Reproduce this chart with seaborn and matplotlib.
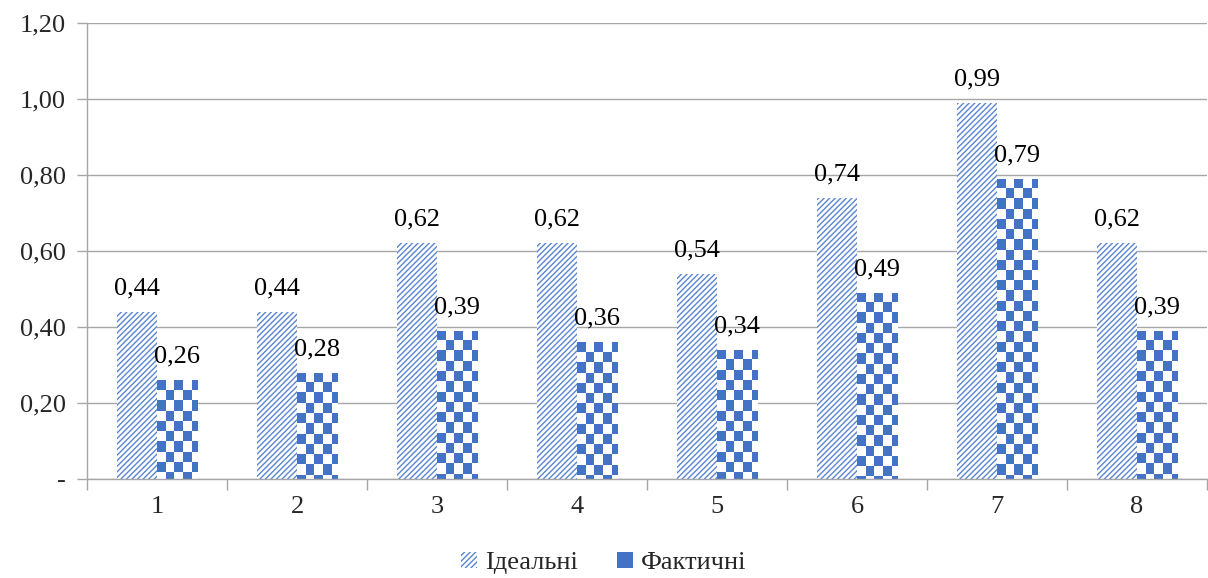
import matplotlib
matplotlib.use("Agg")
import matplotlib.pyplot as plt
from matplotlib.colors import ListedColormap
from matplotlib.patches import Patch
import seaborn as sns
import pandas as pd
import numpy as np

categories = ["1", "2", "3", "4", "5", "6", "7", "8"]
ideal = [0.44, 0.44, 0.62, 0.62, 0.54, 0.74, 0.99, 0.62]
actual = [0.26, 0.28, 0.39, 0.36, 0.34, 0.49, 0.79, 0.39]
series = ["Ідеальні", "Фактичні"]
yticks = [0, 0.2, 0.4, 0.6, 0.8, 1.0, 1.2]

blue = "#4472C4"
hatch_blue = "#5B85D0"

df = pd.DataFrame({
    "cat": categories * 2,
    "val": ideal + actual,
    "series": [series[0]] * len(categories) + [series[1]] * len(categories),
})

sns.set_theme(style="white")
plt.rcParams["font.family"] = "serif"
plt.rcParams["font.serif"] = ["Liberation Serif", "DejaVu Serif"]
plt.rcParams["hatch.linewidth"] = 1.0
plt.rcParams["hatch.color"] = hatch_blue

fig = plt.figure(figsize=(12.08, 5.78), dpi=100)
ax = fig.add_axes([87 / 1208, 1 - 479 / 578, 1120 / 1208, 456 / 578])

sns.barplot(data=df, x="cat", y="val", hue="series", order=categories,
            hue_order=series, palette=["white", blue], width=0.572, gap=0,
            linewidth=0, legend=False, ax=ax, errorbar=None)

n = len(categories)
ideal_bars = ax.patches[:n]
actual_bars = ax.patches[n:2 * n]

for b in ideal_bars:
    b.set_facecolor("white")
    b.set_edgecolor(hatch_blue)
    b.set_hatch("//////")
    b.set_linewidth(0)

# checkerboard texture for the actual bars (cells about 8.5 px)
cell_x = 8.5 / 140
cell_y = 8.5 / 380 * 1.2
cmap = ListedColormap(["white", blue])
for b in actual_bars:
    x0, w, h = b.get_x(), b.get_width(), b.get_height()
    nrows = int(np.ceil(h / cell_y))
    ncols = int(np.ceil(w / cell_x))
    grid = 1 - np.indices((nrows, ncols)).sum(axis=0) % 2
    im = ax.imshow(grid, cmap=cmap, vmin=0, vmax=1,
                   extent=[x0, x0 + ncols * cell_x, h - nrows * cell_y, h],
                   aspect="auto", interpolation="nearest", origin="upper", zorder=2)
    im.set_clip_path(b)
    b.set_facecolor("none")

ax.set_xlim(-0.5, n - 0.5)
ax.set_ylim(0, 1.2)

for bars, vals in [(ideal_bars, ideal), (actual_bars, actual)]:
    for b, v in zip(bars, vals):
        ax.annotate(f"{v:.2f}".replace(".", ","),
                    (b.get_x() + b.get_width() / 2, b.get_height()),
                    xytext=(0, 9), textcoords="offset points",
                    ha="center", va="bottom", fontsize=19, color="black")

ax.set_yticks(yticks)
ax.set_yticklabels(["-" if t == 0 else f"{t:.2f}".replace(".", ",") for t in yticks],
                   fontsize=19)
ax.yaxis.grid(True, color="#A6A6A6", linewidth=1)
ax.set_axisbelow(True)
ax.tick_params(axis="y", length=7, color="#A6A6A6", width=1, pad=8, left=True)
ax.tick_params(axis="x", which="major", length=0, labelsize=19, pad=12)
ax.set_xticks(np.arange(-0.5, n, 1), minor=True)
ax.tick_params(axis="x", which="minor", length=8, color="#A6A6A6", width=1, bottom=True)
ax.set_xlabel("")
ax.set_ylabel("")

for s in ["top", "right"]:
    ax.spines[s].set_visible(False)
for s in ["left", "bottom"]:
    ax.spines[s].set_color("#A6A6A6")
    ax.spines[s].set_linewidth(1)

handles = [Patch(facecolor="white", edgecolor=hatch_blue, hatch="//////", linewidth=0),
           Patch(facecolor=blue, edgecolor=blue, linewidth=0)]
fig.legend(handles, series, loc="center", bbox_to_anchor=(0.5, 1 - 563 / 578),
           ncol=2, frameon=False, fontsize=19, handlelength=0.6, handleheight=0.6,
           handletextpad=0.3, columnspacing=1.5)

fig.savefig("out.png", dpi=100)
